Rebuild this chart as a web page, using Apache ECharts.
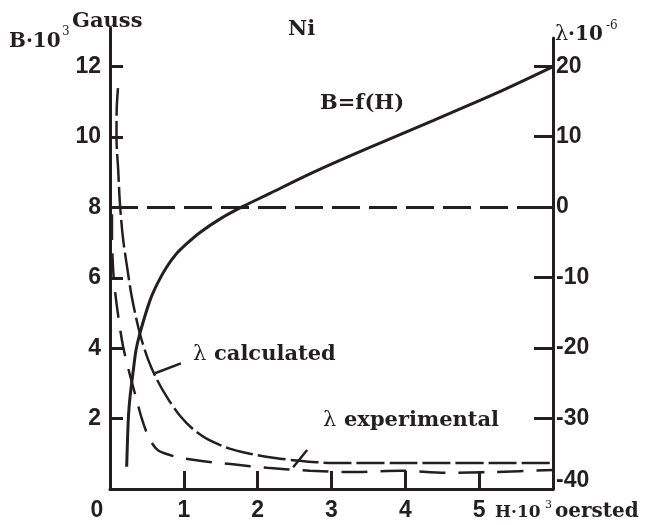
<!DOCTYPE html>
<html>
<head>
<meta charset="utf-8">
<script src="https://cdn.jsdelivr.net/npm/echarts@6/dist/echarts.min.js"></script>
<style>
  html, body { margin: 0; padding: 0; background: #ffffff; }
  #chart { width: 645px; height: 525px; }
</style>
</head>
<body>
<div id="chart"></div>
<script>
// Tick values for the three axes
const hTicks = [1, 2, 3, 4, 5];
const hLabels = [0, 1, 2, 3, 4, 5];
const bTicks = [2, 4, 6, 8, 10, 12];
const lambdaTicks = [-30, -20, -10, 0, 10, 20];
const lambdaLabels = [-40, -30, -20, -10, 0, 10, 20];

// Magnetisation curve B = f(H) of nickel (H in 10^3 Oe, B in 10^3 Gauss)
const bH   = [0.226, 0.237, 0.251, 0.271, 0.316, 0.352, 0.406, 0.542, 0.650, 0.768, 0.894, 1.039, 1.219, 1.503, 1.801, 2.167, 2.574, 3.02, 3.48, 4.375, 5.28, 6.0];
const bVal = [0.63, 1.39, 2.10, 2.61, 3.38, 3.94, 4.43, 5.36, 5.87, 6.31, 6.67, 6.97, 7.29, 7.69, 8.03, 8.40, 8.82, 9.25, 9.67, 10.47, 11.29, 12.0];

// Magnetostriction λ (10^-6), calculated
const calcH      = [0.108, 0.091, 0.088, 0.112, 0.135, 0.176, 0.230, 0.298, 0.406, 0.515, 0.637, 0.786, 0.948, 1.124, 1.314, 1.598, 1.896, 2.235, 2.574, 3.02, 3.93, 6.0];
const calcLambda = [16.9, 14.0, 9.8, 5.1, 0.4, -4.4, -8.4, -12.9, -18.0, -21.6, -24.5, -27.2, -29.6, -31.5, -32.9, -34.2, -35.0, -35.6, -36.0, -36.3, -36.3, -36.3];

// Magnetostriction λ (10^-6), experimental
const expH      = [0.027, 0.027, 0.034, 0.054, 0.108, 0.176, 0.257, 0.352, 0.433, 0.501, 0.569, 0.650, 0.758, 0.921, 1.219, 1.666, 2.127, 2.709, 3.25, 3.93, 4.56, 5.19, 6.0];
const expLambda = [-1.0, -4.1, -7.0, -10.5, -15.2, -19.7, -23.3, -27.0, -30.1, -32.1, -33.5, -34.5, -35.0, -35.5, -36.0, -36.5, -37.0, -37.4, -37.6, -37.4, -37.7, -37.6, -37.3];

// Leader lines of the two λ captions (in H / B units)
const calcLeaderH = [0.61, 0.96];
const calcLeaderB = [3.29, 3.57];
const expLeaderH  = [2.48, 2.67];
const expLeaderB  = [0.62, 1.11];

const INK = '#231f20';
const SANS = 'Liberation Sans';
const SERIF = 'DejaVu Serif';

const zip = (xs, ys) => xs.map((x, i) => [x, ys[i]]);
const axisLine = { show: true, onZero: false, lineStyle: { color: INK, width: 3 } };
const tickStyle = { color: INK, width: 3 };
const numLabel = { fontFamily: SANS, fontWeight: 'bold', fontSize: 23, color: INK };

const chart = echarts.init(document.getElementById('chart'), null, { renderer: 'canvas' });

const textEl = (x, y, text, font) => ({
  type: 'text', x: x, y: y, silent: true,
  style: { text: text, font: font, fill: INK, align: 'left', verticalAlign: 'middle' }
});

chart.setOption({
  animation: false,
  backgroundColor: '#ffffff',
  grid: [
    { left: 110, right: 92, top: 28, bottom: 36 },
    { left: 110, right: 92, top: 38, bottom: 36 }
  ],
  xAxis: [
    {
      gridIndex: 0, type: 'value', min: 0, max: 6,
      axisLine: { show: true, lineStyle: { color: INK, width: 3 } },
      axisTick: { show: true, inside: true, length: 18, customValues: hTicks, lineStyle: tickStyle },
      axisLabel: Object.assign({
        customValues: hLabels, margin: 10,
        formatter: v => (v === 0 ? '{z|0}' : String(v)),
        rich: { z: Object.assign({ padding: [0, 26, 0, 0] }, numLabel) }
      }, numLabel),
      splitLine: { show: false }
    },
    { gridIndex: 1, type: 'value', min: 0, max: 6, show: false }
  ],
  yAxis: [
    {
      gridIndex: 0, type: 'value', min: 0, max: 13.1, position: 'left',
      axisLine: axisLine,
      axisTick: { show: true, inside: true, length: 13, customValues: bTicks, lineStyle: tickStyle },
      axisLabel: Object.assign({ customValues: bTicks, margin: 9 }, numLabel),
      splitLine: { show: false }
    },
    {
      gridIndex: 1, type: 'value', min: -40, max: 24, position: 'right',
      axisLine: axisLine,
      axisTick: { show: true, inside: true, length: 19, customValues: lambdaTicks, lineStyle: tickStyle },
      axisLabel: Object.assign({
        customValues: lambdaLabels, margin: 3,
        formatter: v => (v === -40 ? '{b|-40}' : String(v)),
        rich: { b: Object.assign({ padding: [0, 0, 16, 0] }, numLabel) }
      }, numLabel),
      splitLine: { show: false }
    }
  ],
  series: [
    {
      name: 'B = f(H)', type: 'line', xAxisIndex: 0, yAxisIndex: 0,
      data: zip(bH, bVal), showSymbol: false, smooth: 0.3,
      lineStyle: { color: INK, width: 3 }
    },
    {
      name: 'λ calculated', type: 'line', xAxisIndex: 1, yAxisIndex: 1,
      data: zip(calcH, calcLambda), showSymbol: false, smooth: 0.3,
      lineStyle: { color: INK, width: 2.5, type: [28, 5] },
      markLine: {
        silent: true, symbol: ['none', 'none'], label: { show: false },
        lineStyle: { color: INK, width: 3, type: [28, 9] },
        data: [{ yAxis: 0 }]
      }
    },
    {
      name: 'λ experimental', type: 'line', xAxisIndex: 1, yAxisIndex: 1,
      data: zip(expH, expLambda), showSymbol: false, smooth: 0.3,
      lineStyle: { color: INK, width: 2.5, type: [26, 13] }
    },
    {
      name: 'calc leader', type: 'line', xAxisIndex: 0, yAxisIndex: 0,
      data: zip(calcLeaderH, calcLeaderB), showSymbol: false,
      lineStyle: { color: INK, width: 2.5 }
    },
    {
      name: 'exp leader', type: 'line', xAxisIndex: 0, yAxisIndex: 0,
      data: zip(expLeaderH, expLeaderB), showSymbol: false,
      lineStyle: { color: INK, width: 2.5 }
    }
  ],
  graphic: [
    textEl(288, 30, 'Ni', 'bold 21px "' + SERIF + '"'),
    textEl(72, 22, 'Gauss', 'bold 21px "' + SERIF + '"'),
    textEl(9, 42, 'B·10', 'bold 20px "' + SERIF + '"'),
    textEl(62, 32, '3', '12px "' + SERIF + '"'),
    textEl(555, 35, 'λ', '21px "' + SERIF + '"'),
    textEl(568, 35, '·10', 'bold 20px "' + SERIF + '"'),
    textEl(606, 26, '-6', '12px "' + SERIF + '"'),
    textEl(320, 104, 'B=f(H)', 'bold 21px "' + SERIF + '"'),
    textEl(193, 355, 'λ', '21px "' + SERIF + '"'),
    textEl(214, 355, 'calculated', 'bold 21px "' + SERIF + '"'),
    textEl(323, 421, 'λ', '21px "' + SERIF + '"'),
    textEl(344, 421, 'experimental', 'bold 21px "' + SERIF + '"'),
    textEl(495, 513, 'H·10', 'bold 17px "' + SERIF + '"'),
    textEl(545, 505, '3', '11px "' + SERIF + '"'),
    textEl(555, 512, 'oersted', 'bold 20px "' + SERIF + '"')
  ]
});
</script>
</body>
</html>
